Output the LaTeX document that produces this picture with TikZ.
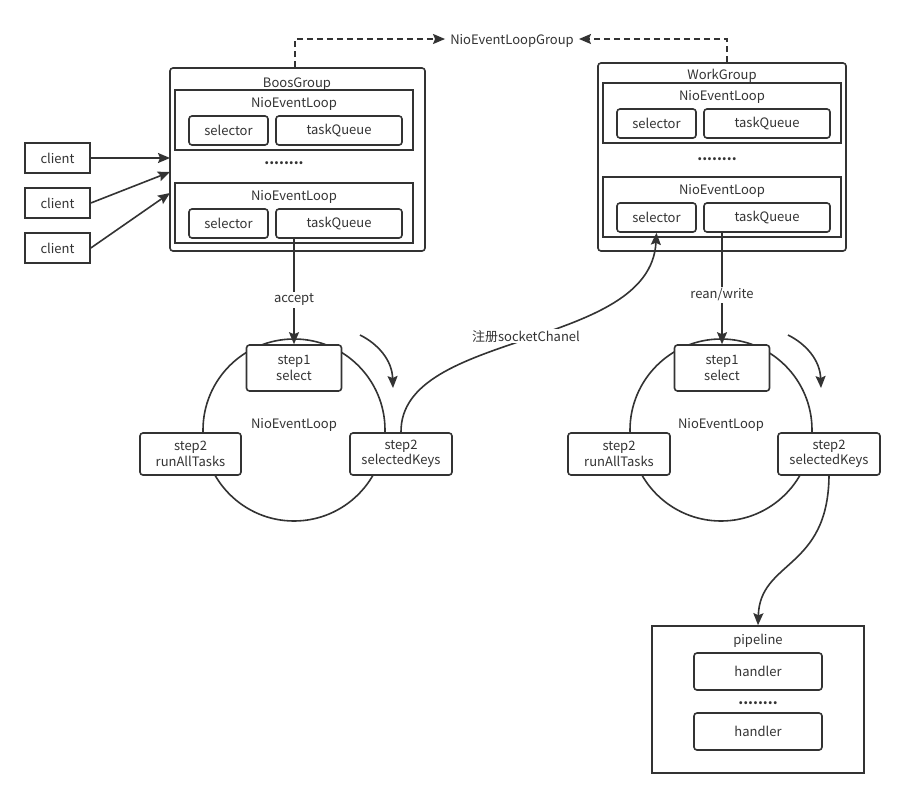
\documentclass[tikz,border=0pt]{standalone}
\usepackage{fontspec}
\setmainfont{Noto Sans CJK SC}
\usetikzlibrary{arrows.meta}
\definecolor{ln}{HTML}{333333}
\definecolor{tx}{HTML}{333333}
\tikzset{
  box/.style={draw=ln, line width=1.6pt, rounded corners=3pt, fill=white, inner sep=0pt, text=tx, font=\fontsize{13}{15.5}\selectfont, align=center},
  sqbox/.style={draw=ln, line width=1.6pt, fill=white, inner sep=0pt},
  lbl/.style={text=tx, font=\fontsize{13}{15.5}\selectfont, inner sep=0pt, align=center, yshift=-2pt},
  dotsl/.style={text=ln, font=\fontsize{14}{15}\selectfont\bfseries, inner sep=0pt},
  conn/.style={draw=ln, line width=1.6pt, -{Stealth[length=12pt,width=10pt,inset=2pt]}},
  dconn/.style={conn, dash pattern=on 6pt off 4pt},
  loopc/.style={draw=ln, line width=1.6pt, circle, inner sep=0pt, minimum size=182pt},
}
\begin{document}
\begin{tikzpicture}[x=1pt,y=-1pt]
\useasboundingbox[fill=white] (0,0) rectangle (904,798);
% ---------------- BoosGroup ----------------
\node[box, minimum width=255pt, minimum height=183pt] (bg) at (297.5,159.5) {};
\node[lbl] (bgl) at (297,82) {BoosGroup};
\node[sqbox, minimum width=238pt, minimum height=60pt] (bl1) at (294,120) {};
\node[lbl] (bl1t) at (294,102) {NioEventLoop};
\node[box, minimum width=79pt, minimum height=29pt] (bs1) at (228.5,130.5) {selector};
\node[box, minimum width=126pt, minimum height=29pt] (bq1) at (339,130.5) {taskQueue};
\node[dotsl] (bd) at (284,163) {........};
\node[sqbox, minimum width=238pt, minimum height=60pt] (bl2) at (294,213) {};
\node[lbl] (bl2t) at (294,195) {NioEventLoop};
\node[box, minimum width=79pt, minimum height=29pt] (bs2) at (228.5,223.5) {selector};
\node[box, minimum width=126pt, minimum height=29pt] (bq2) at (339,223.5) {taskQueue};
% ---------------- WorkGroup ----------------
\node[box, minimum width=248pt, minimum height=188pt] (wg) at (722,157) {};
\node[lbl] (wgl) at (722,74) {WorkGroup};
\node[sqbox, minimum width=238pt, minimum height=60pt] (wl1) at (722,113) {};
\node[lbl] (wl1t) at (722,95) {NioEventLoop};
\node[box, minimum width=79pt, minimum height=29pt] (ws1) at (656.5,123.5) {selector};
\node[box, minimum width=126pt, minimum height=29pt] (wq1) at (767,123.5) {taskQueue};
\node[dotsl] (wd) at (717,159) {........};
\node[sqbox, minimum width=238pt, minimum height=60pt] (wl2) at (722,207) {};
\node[lbl] (wl2t) at (722,189) {NioEventLoop};
\node[box, minimum width=79pt, minimum height=29pt] (ws2) at (656.5,217.5) {selector};
\node[box, minimum width=126pt, minimum height=29pt] (wq2) at (767,217.5) {taskQueue};
% ---------------- clients ----------------
\node[sqbox, minimum width=65pt, minimum height=30pt, text=tx, font=\fontsize{13}{15.5}\selectfont] (c1) at (57.5,158) {client};
\node[sqbox, minimum width=65pt, minimum height=30pt, text=tx, font=\fontsize{13}{15.5}\selectfont] (c2) at (57.5,203) {client};
\node[sqbox, minimum width=65pt, minimum height=30pt, text=tx, font=\fontsize{13}{15.5}\selectfont] (c3) at (57.5,248) {client};
\coordinate (t1) at (170,158);
\coordinate (t2) at (170,172);
\coordinate (t3) at (170,193);
\draw[conn] (c1.east) -- (t1);
\draw[conn] (c2.east) -- (t2);
\draw[conn] (c3.east) -- (t3);
% ---------------- group ----------------
\coordinate (gc) at (512,39);
\node[lbl, inner xsep=5pt] (grp) at (gc) {NioEventLoopGroup};
\draw[dconn] ([xshift=-2.5pt]bg.north) |- (grp.west |- gc);
\draw[dconn] ([xshift=5pt]wg.north) |- (grp.east |- gc);
% ---------------- left loop ----------------
\node[loopc] (lc) at (294,430) {};
\node[lbl] (lct) at (294,423) {NioEventLoop};
\node[box, minimum width=95pt, minimum height=46pt] (ls1) at (294,368) {step1\\select};
\node[box, minimum width=101pt, minimum height=42pt] (ls2) at (190.5,454) {step2\\runAllTasks};
\node[box, minimum width=102pt, minimum height=42pt] (ls3) at (401,454) {step2\\selectedKeys};
\draw[conn] (bq2.south -| ls1.north) -- node[pos=0.56, lbl, fill=white, inner ysep=2pt] (acc) {accept} (ls1.north);
\coordinate (la1) at (360,335);
\coordinate (la2) at (393,388);
\draw[conn] (la1) .. controls (378,344) and (392,360) .. (la2);
% registration
\draw[conn] (ls3.north) .. controls (400,330) and (650,350) .. node[pos=0.5, lbl, fill=white, inner xsep=1pt, inner ysep=1pt, yshift=4pt] (reg) {注册socketChanel} (ws2.south);
% ---------------- right loop ----------------
\node[loopc] (rc) at (721,430) {};
\node[lbl] (rct) at (721,423) {NioEventLoop};
\node[box, minimum width=95pt, minimum height=46pt] (rs1) at (722,368) {step1\\select};
\node[box, minimum width=102pt, minimum height=42pt] (rs2) at (619,454) {step2\\runAllTasks};
\node[box, minimum width=102pt, minimum height=42pt] (rs3) at (829,454) {step2\\selectedKeys};
\draw[conn] (wq2.south -| rs1.north) -- node[pos=0.54, lbl, fill=white, inner ysep=2pt] (rw) {rean/write} (rs1.north);
\coordinate (ra1) at (788,335);
\coordinate (ra2) at (821,388);
\draw[conn] (ra1) .. controls (806,344) and (820,360) .. (ra2);
% ---------------- pipeline ----------------
\node[sqbox, minimum width=212pt, minimum height=147pt] (pl) at (758,699.5) {};
\node[lbl] (plt) at (758,639) {pipeline};
\node[box, minimum width=128pt, minimum height=37pt] (h1) at (758,671.5) {handler};
\node[dotsl] (pd) at (758,703) {........};
\node[box, minimum width=128pt, minimum height=37pt] (h2) at (758,731.5) {handler};
\draw[conn] (rs3.south) .. controls (828,570) and (760,560) .. (pl.north);
\end{tikzpicture}
\end{document}
